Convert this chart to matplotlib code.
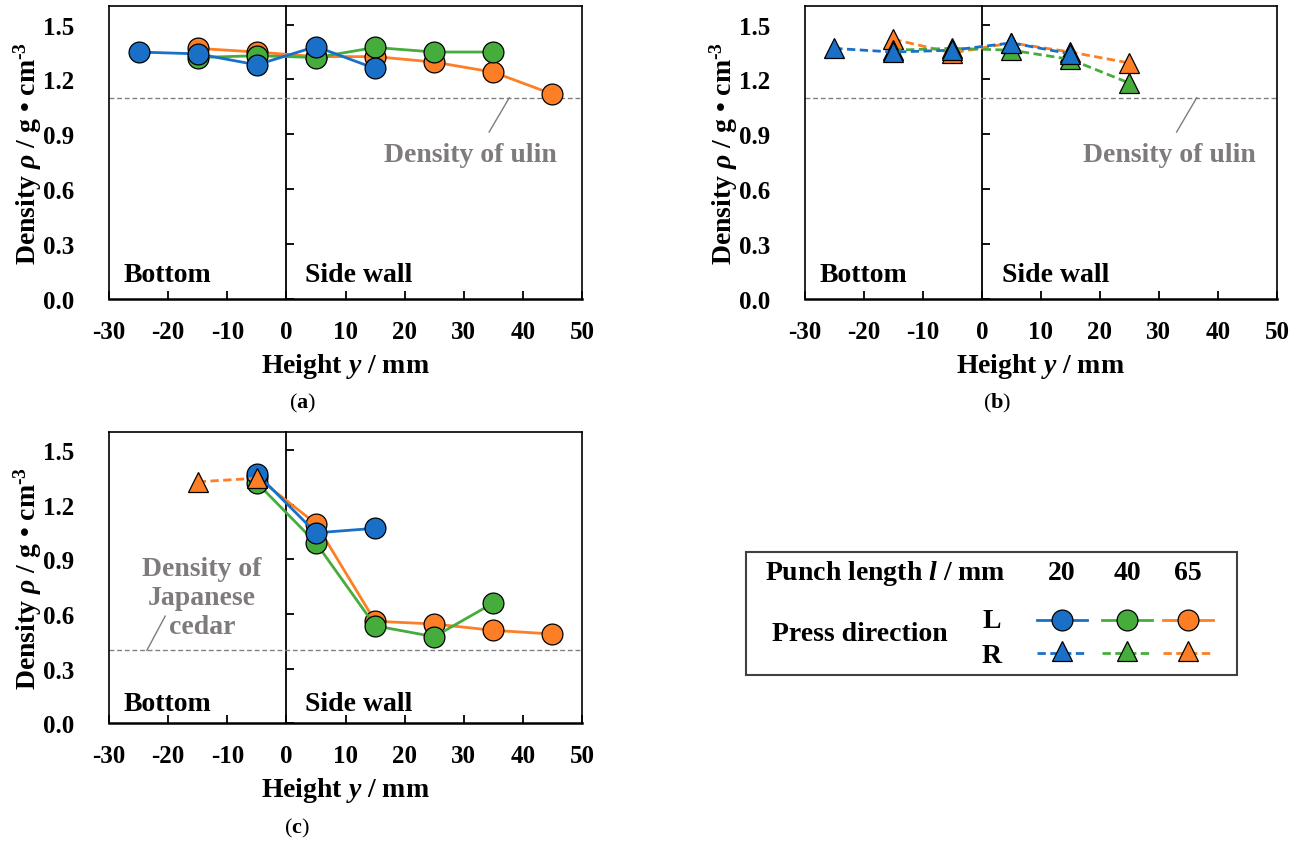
import matplotlib
matplotlib.use("Agg")
import matplotlib.pyplot as plt
from matplotlib.ticker import FormatStrFormatter
from matplotlib.patches import Rectangle

plt.rcParams['font.family'] = ['Liberation Serif', 'DejaVu Serif']
plt.rcParams['font.weight'] = 'bold'
plt.rcParams['axes.unicode_minus'] = False
plt.rcParams['mathtext.fontset'] = 'custom'
plt.rcParams['mathtext.rm'] = 'Liberation Serif:bold'
plt.rcParams['mathtext.it'] = 'Liberation Serif:italic:bold'
plt.rcParams['mathtext.bf'] = 'Liberation Serif:bold'

# ---------------- data ----------------
x_ticks = [-30, -20, -10, 0, 10, 20, 30, 40, 50]
y_ticks = [0.0, 0.3, 0.6, 0.9, 1.2, 1.5]

# panel (a): press direction L
a_L20_x = [-25, -15, -5, 5, 15]
a_L20_y = [1.35, 1.34, 1.28, 1.38, 1.26]
a_L40_x = [-15, -5, 5, 15, 25, 35]
a_L40_y = [1.32, 1.33, 1.32, 1.375, 1.35, 1.35]
a_L65_x = [-15, -5, 5, 15, 25, 35, 45]
a_L65_y = [1.37, 1.35, 1.325, 1.325, 1.295, 1.24, 1.12]

# panel (b): press direction R
b_R20_x = [-25, -15, -5, 5, 15]
b_R20_y = [1.37, 1.35, 1.36, 1.40, 1.34]
b_R40_x = [-15, -5, 5, 15, 25]
b_R40_y = [1.36, 1.37, 1.36, 1.31, 1.18]
b_R65_x = [-15, -5, 5, 15, 25]
b_R65_y = [1.42, 1.345, 1.40, 1.35, 1.29]

# panel (c)
c_L20_x = [-5, 5, 15]
c_L20_y = [1.37, 1.045, 1.07]
c_L40_x = [-5, 5, 15, 25, 35]
c_L40_y = [1.32, 0.99, 0.535, 0.475, 0.66]
c_L65_x = [-5, 5, 15, 25, 35, 45]
c_L65_y = [1.35, 1.095, 0.56, 0.545, 0.51, 0.49]
c_R65_x = [-15, -5]
c_R65_y = [1.325, 1.345]

rho_ulin = 1.1
rho_cedar = 0.4

punch_lengths = ['20', '40', '65']
colors = {'20': '#1A70C6', '40': '#46AD3D', '65': '#FD7E25'}

# ---------------- figure ----------------
W, H = 1303, 845
fig = plt.figure(figsize=(W / 100, H / 100), dpi=100)

TICK_FS = 18
LAB_FS = 20
GRAY = '#7F7B7B'


def setup(ax):
    ax.set_xlim(-30, 50)
    ax.set_ylim(0, 1.6)
    ax.set_xticks(x_ticks)
    ax.set_yticks(y_ticks)
    ax.yaxis.set_major_formatter(FormatStrFormatter('%.1f'))
    ax.tick_params(axis='x', direction='in', length=6, width=1.3,
                   labelsize=TICK_FS, pad=15)
    ax.tick_params(axis='y', length=0, labelsize=TICK_FS, pad=25)
    for s in ['top', 'right', 'left']:
        ax.spines[s].set_linewidth(1.2)
    ax.spines['bottom'].set_linewidth(1.8)
    sec = ax.secondary_yaxis(30 / 80)
    sec.set_yticks(y_ticks)
    sec.tick_params(direction='in', length=6, width=1.3, labelleft=False)
    sec.spines['left'].set_linewidth(1.3)
    ax.set_xlabel('Height $y$ / mm', fontsize=LAB_FS, fontweight='bold', labelpad=6)
    ax.set_ylabel('Density $\\rho$ / g • cm$^{\\text{-3}}$', fontsize=LAB_FS,
                  fontweight='bold', labelpad=-1)


def series(ax, x, y, key, kind, z):
    if kind == 'L':
        ax.plot(x, y, '-', color=colors[key], lw=2.0, marker='o', ms=15,
                mfc=colors[key], mec='black', mew=0.9, zorder=z)
    else:
        ax.plot(x, y, '--', color=colors[key], lw=2.0, dashes=(3, 1.6),
                marker='^', ms=14.5, mfc=colors[key], mec='black', mew=0.9,
                zorder=z)


def ref_line(ax, val):
    ax.axhline(val, color='#808080', lw=1.0, ls=(0, (3.5, 2)), zorder=1)


# (a)
ax_a = fig.add_axes([109 / W, 1 - 300 / H, 473 / W, 292.7 / H])
setup(ax_a)
ref_line(ax_a, rho_ulin)
series(ax_a, a_L65_x, a_L65_y, '65', 'L', 3)
series(ax_a, a_L40_x, a_L40_y, '40', 'L', 4)
series(ax_a, a_L20_x, a_L20_y, '20', 'L', 5)
ax_a.text(31.1, 0.79, 'Density of ulin', color=GRAY, fontsize=LAB_FS,
          ha='center', va='center', fontweight='bold')
ax_a.plot([34.3, 37.7], [0.913, rho_ulin], color=GRAY, lw=1.0, zorder=2)
ax_a.text(-27.5, 0.10, 'Bottom', fontsize=LAB_FS, fontweight='bold', va='baseline')
ax_a.text(3.1, 0.10, 'Side wall', fontsize=LAB_FS, fontweight='bold', va='baseline')

# (b)
ax_b = fig.add_axes([804.7 / W, 1 - 300 / H, 472.3 / W, 292.7 / H])
setup(ax_b)
ref_line(ax_b, rho_ulin)
series(ax_b, b_R65_x, b_R65_y, '65', 'R', 3)
series(ax_b, b_R40_x, b_R40_y, '40', 'R', 4)
series(ax_b, b_R20_x, b_R20_y, '20', 'R', 5)
ax_b.text(31.7, 0.79, 'Density of ulin', color=GRAY, fontsize=LAB_FS,
          ha='center', va='center', fontweight='bold')
ax_b.plot([33.0, 36.4], [0.913, rho_ulin], color=GRAY, lw=1.0, zorder=2)
ax_b.text(-27.4, 0.10, 'Bottom', fontsize=LAB_FS, fontweight='bold', va='baseline')
ax_b.text(3.4, 0.10, 'Side wall', fontsize=LAB_FS, fontweight='bold', va='baseline')

# (c)
ax_c = fig.add_axes([109 / W, 1 - 724.3 / H, 473 / W, 291.6 / H])
setup(ax_c)
ref_line(ax_c, rho_cedar)
series(ax_c, c_L65_x, c_L65_y, '65', 'L', 3)
series(ax_c, c_L40_x, c_L40_y, '40', 'L', 4)
series(ax_c, c_L20_x, c_L20_y, '20', 'L', 5)
series(ax_c, c_R65_x, c_R65_y, '65', 'R', 6)
ax_c.text(-14.3, 0.69, 'Density of\nJapanese\ncedar', color=GRAY,
          fontsize=LAB_FS, ha='center', va='center', fontweight='bold',
          linespacing=1.2)
ax_c.plot([-20.5, -23.6], [0.588, rho_cedar], color=GRAY, lw=1.0, zorder=2)
ax_c.text(-27.5, 0.075, 'Bottom', fontsize=LAB_FS, fontweight='bold', va='baseline')
ax_c.text(3.1, 0.075, 'Side wall', fontsize=LAB_FS, fontweight='bold', va='baseline')

# captions
for label, (cx, cy) in zip(['a', 'b', 'c'], [(303, 403), (997, 403), (297, 828)]):
    fig.text(cx / W, 1 - cy / H, '($\\mathbf{%s}$)' % label, fontsize=16,
             fontweight='normal', ha='center', va='center')

# ---------------- legend box ----------------
lg = fig.add_axes([745 / W, 1 - 677 / H, 493 / W, 124 / H])
lg.set_xlim(745, 1238)
lg.set_ylim(677, 553)
lg.axis('off')
lg.add_patch(Rectangle((746, 553), 491, 123, fill=False, ec='#404040', lw=1.5,
                       clip_on=False))
lg.text(765, 574, 'Punch length $l$ / mm', fontsize=LAB_FS, fontweight='bold',
        ha='left', va='center')
col_x = [1062, 1127, 1188]
for key, cx in zip(punch_lengths, col_x):
    lg.text(cx, 574, key, fontsize=LAB_FS, fontweight='bold', ha='center', va='center')
    lg.plot([cx - 25, cx + 25], [621, 621], '-', color=colors[key], lw=2.0, zorder=3)
    lg.plot([cx], [621], 'o', ms=15, mfc=colors[key], mec='black', mew=0.9, zorder=4)
    lg.plot([cx - 25, cx + 25], [654, 654], '--', color=colors[key], lw=2.0,
            dashes=(3, 1.6), zorder=3)
    lg.plot([cx], [652], '^', ms=14.5, mfc=colors[key], mec='black', mew=0.9, zorder=4)
lg.text(860, 635, 'Press direction', fontsize=LAB_FS, fontweight='bold',
        ha='center', va='center')
lg.text(992, 622, 'L', fontsize=LAB_FS, fontweight='bold', ha='center', va='center')
lg.text(992, 657, 'R', fontsize=LAB_FS, fontweight='bold', ha='center', va='center')

fig.savefig('out.png', dpi=100)
